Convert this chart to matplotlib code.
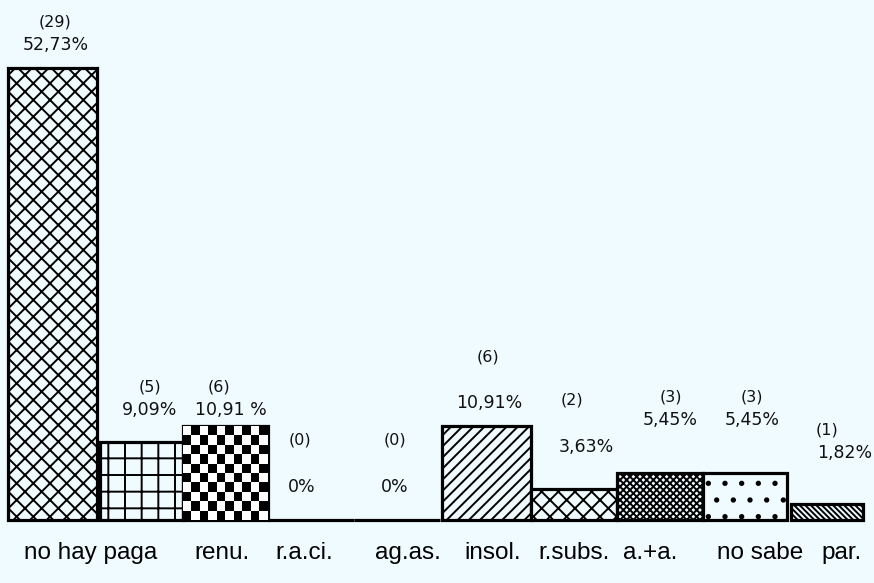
import numpy as np
import matplotlib
matplotlib.use('Agg')
import matplotlib.pyplot as plt

# datos
counts = [29, 5, 6, 0, 0, 6, 2, 3, 3, 1]
percents = [52.73, 9.09, 10.91, 0, 0, 10.91, 3.63, 5.45, 5.45, 1.82]
pct_labels = ['52,73%', '9,09%', '10,91 %', '0%', '0%', '10,91%', '3,63%', '5,45%', '5,45%', '1,82%']
cat_labels = ['no hay paga', 'renu.', 'r.a.ci.', 'ag.as.', 'insol.', 'r.subs.', 'a.+a.', 'no sabe', 'par.']

# posiciones (px en la imagen)
bar_left = [8, 100, 183, 268, 354, 442, 531, 617, 703, 791]
bar_w = [89, 83, 85, 86, 86, 89, 86, 86, 84, 72]
hatches = ['xx', '+', None, None, None, '///', 'xx', 'xxxxx', '.', '\\\\\\\\\\\\']
cat_x = [91, 222, 304, 408, 493, 574, 650, 760, 842]
cnt_pos = [(55, 22), (150, 387), (219, 387), (300, 440), (395, 440),
           (488, 357), (572, 400), (671, 397), (752, 397), (827, 430)]
pct_pos = [(56, 45), (150, 410), (231, 410), (302, 487), (395, 487),
           (489, 403), (586, 447), (670, 420), (752, 420), (845, 453)]

bg = '#f0fbff'
W, H = 874, 583
base = 520
scale = (base - 68) / percents[0]

plt.rcParams['hatch.linewidth'] = 1.4
fig = plt.figure(figsize=(W / 100, H / 100), dpi=100, facecolor=bg)
ax = fig.add_axes([0, 0, 1, 1])
ax.set_facecolor(bg)
ax.axis('off')

bars = ax.bar(bar_left, percents, width=bar_w, align='edge',
              facecolor=bg, edgecolor='black', linewidth=2.3)
for b, h in zip(bars, hatches):
    if h:
        b.set_hatch(h)

# tablero de ajedrez en la barra "renu."
b = bars[2]
n = 10
board = (np.indices((n, n)).sum(axis=0) % 2).astype(float)
im = ax.imshow(board, cmap='gray_r', vmin=0, vmax=1, interpolation='nearest',
               extent=(b.get_x(), b.get_x() + b.get_width(), 0, b.get_height()),
               aspect='auto', zorder=1.5)
im.set_clip_path(b)
ax.set_xlim(0, W)
ax.set_ylim(-(H - base) / scale, base / scale)

def px(x, y):
    return x / W, 1 - y / H

for c, p, (cx, cy), (qx, qy) in zip(counts, pct_labels, cnt_pos, pct_pos):
    fig.text(*px(cx, cy), '(%d)' % c, ha='center', va='center', fontsize=11.5, color='#111111')
    fig.text(*px(qx, qy), p, ha='center', va='center', fontsize=12.5, color='#111111')

for lab, x in zip(cat_labels, cat_x):
    fig.text(*px(x, 553), lab, ha='center', va='center', fontsize=17.5,
             family='Liberation Sans', color='black')

fig.savefig('out.png', dpi=100, facecolor=bg)
